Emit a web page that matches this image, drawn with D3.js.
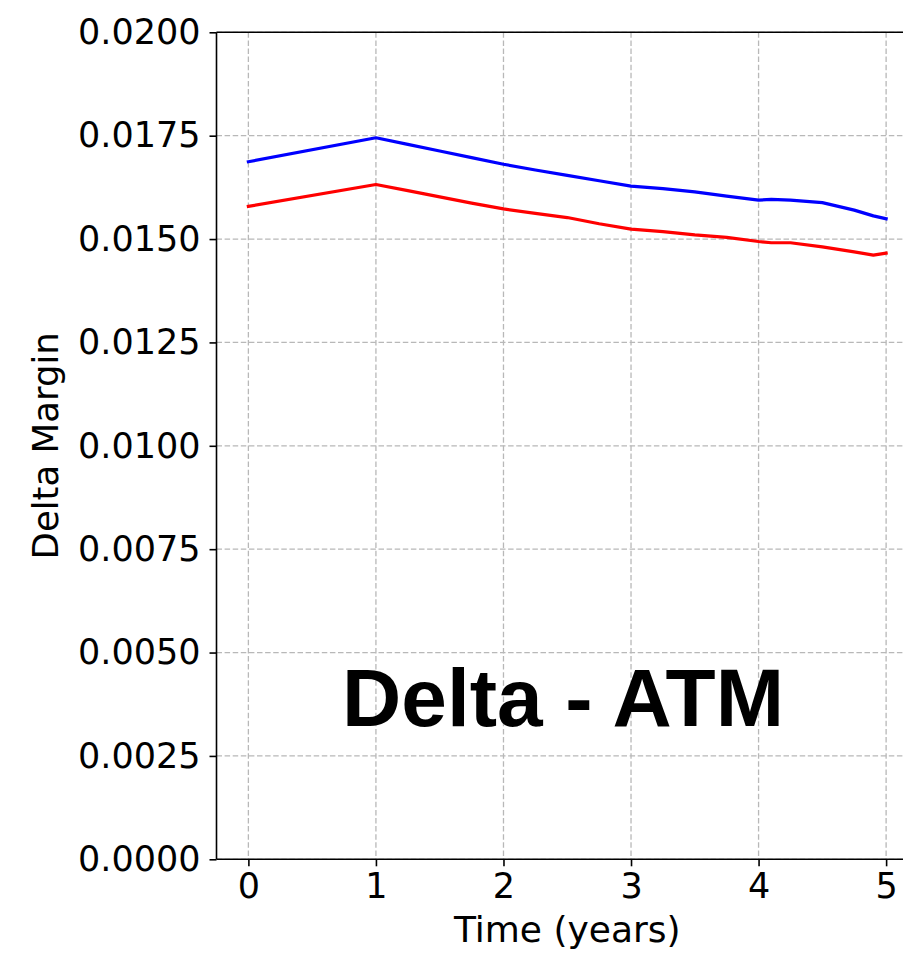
<!DOCTYPE html>
<html>
<head>
<meta charset="utf-8">
<script src="https://cdn.jsdelivr.net/npm/d3@7"></script>
<style>
  html, body { margin: 0; padding: 0; background: #fff; }
  svg { display: block; }
</style>
</head>
<body>
<svg id="chart" width="903" height="955"></svg>
<script>
// Time grid (years) and delta margin for the two series
const times = [0, 1, 1.25, 1.5, 1.75, 2, 2.25, 2.5, 2.75, 3, 3.25, 3.5, 3.75, 4, 4.1, 4.25, 4.5, 4.75, 4.9, 5];
const blueMargin = [0.01687, 0.01745, 0.01729, 0.01713, 0.01697, 0.01681, 0.01667, 0.01654, 0.01641, 0.01628,
                    0.01622, 0.01614, 0.01604, 0.01594, 0.01596, 0.01594, 0.01588, 0.01570, 0.01556, 0.01549];
const redMargin  = [0.01579, 0.01632, 0.01617, 0.01602, 0.01587, 0.01573, 0.01562, 0.01552, 0.01537, 0.01524,
                    0.01518, 0.01510, 0.01504, 0.01494, 0.01491, 0.01491, 0.01481, 0.01469, 0.01461, 0.01466];
const xTicks = [0, 1, 2, 3, 4, 5];
const yTicks = [0, 0.0025, 0.005, 0.0075, 0.01, 0.0125, 0.015, 0.0175, 0.02];
const titleText = "Delta - ATM";
const xLabel = "Time (years)";
const yLabel = "Delta Margin";

const svg = d3.select("#chart");
const plotL = 216.5, plotR = 918, plotT = 32.3, plotB = 859.3;

const x = d3.scaleLinear().domain([-0.25, 5.25]).range([plotL, plotR]);
const y = d3.scaleLinear().domain([0, 0.02]).range([plotB, plotT]);

const font = "'DejaVu Sans', sans-serif";

// Dashed grid
const grid = svg.append("g");
grid.selectAll("line.gx").data(xTicks).join("line")
  .attr("x1", d => x(d)).attr("x2", d => x(d))
  .attr("y1", plotT).attr("y2", plotB)
  .attr("stroke", "#b8b8b8").attr("stroke-width", 1.3)
  .attr("stroke-dasharray", "5.5,2.6");
grid.selectAll("line.gy").data(yTicks).join("line")
  .attr("x1", plotL).attr("x2", plotR)
  .attr("y1", d => y(d)).attr("y2", d => y(d))
  .attr("stroke", "#b8b8b8").attr("stroke-width", 1.3)
  .attr("stroke-dasharray", "5.5,2.6");

// Series lines
const line = d3.line().x(d => x(d[0])).y(d => y(d[1]));
svg.append("path")
  .datum(times.map((t, i) => [t, blueMargin[i]]))
  .attr("d", line).attr("fill", "none")
  .attr("stroke", "#0000ff").attr("stroke-width", 3.2)
  .attr("stroke-linejoin", "round").attr("stroke-linecap", "square");
svg.append("path")
  .datum(times.map((t, i) => [t, redMargin[i]]))
  .attr("d", line).attr("fill", "none")
  .attr("stroke", "#ff0000").attr("stroke-width", 3.2)
  .attr("stroke-linejoin", "round").attr("stroke-linecap", "square");

// Axes
const xAxis = d3.axisBottom(x).tickValues(xTicks).tickFormat(d3.format("d"))
  .tickSize(7).tickPadding(7);
const yAxis = d3.axisLeft(y).tickValues(yTicks).tickFormat(d3.format(".4f"))
  .tickSize(7).tickPadding(9);

const gx = svg.append("g").attr("transform", `translate(0,${plotB})`).call(xAxis);
const gy = svg.append("g").attr("transform", `translate(${plotL},0)`).call(yAxis);
[gx, gy].forEach(g => {
  g.select(".domain").remove();
  g.selectAll(".tick line").attr("stroke", "#000").attr("stroke-width", 1.6);
  g.selectAll(".tick text").attr("fill", "#000")
    .style("font-family", font).style("font-size", "35px");
});

// Spines (left, top, bottom)
svg.append("line").attr("x1", plotL).attr("x2", plotL).attr("y1", plotT).attr("y2", plotB)
  .attr("stroke", "#000").attr("stroke-width", 1.6);
svg.append("line").attr("x1", plotL).attr("x2", plotR).attr("y1", plotT).attr("y2", plotT)
  .attr("stroke", "#000").attr("stroke-width", 1.6);
svg.append("line").attr("x1", plotL).attr("x2", plotR).attr("y1", plotB).attr("y2", plotB)
  .attr("stroke", "#000").attr("stroke-width", 1.6);

// Axis labels
svg.append("text")
  .attr("x", (plotL + plotR) / 2).attr("y", 942)
  .attr("text-anchor", "middle")
  .style("font-family", font).style("font-size", "36px")
  .text(xLabel);
svg.append("text")
  .attr("transform", `translate(58,${(plotT + plotB) / 2}) rotate(-90)`)
  .attr("text-anchor", "middle")
  .style("font-family", font).style("font-size", "35.5px")
  .text(yLabel);

// Overlay title
svg.append("text")
  .attr("x", 563).attr("y", 726)
  .attr("text-anchor", "middle")
  .style("font-family", "'Liberation Sans', Arial, sans-serif")
  .style("font-weight", "bold").style("font-size", "82px")
  .text(titleText);
</script>
</body>
</html>
